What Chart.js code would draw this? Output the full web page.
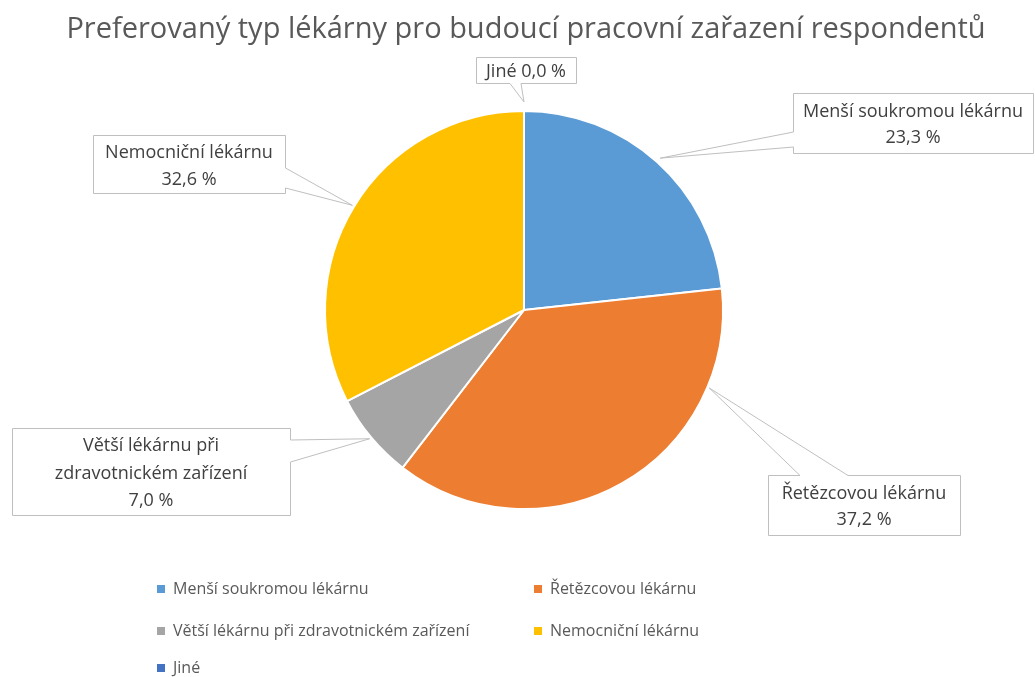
<!DOCTYPE html>
<html lang="cs">
<head>
<meta charset="utf-8">
<title>Preferovaný typ lékárny</title>
<script src="https://cdn.jsdelivr.net/npm/chart.js@4.4.1/dist/chart.umd.min.js"></script>
<style>
  html, body { margin: 0; padding: 0; background: #fff; }
  #chart { display: block; }
</style>
</head>
<body>
<canvas id="chart" width="1035" height="677"></canvas>
<script>
const titleText = 'Preferovaný typ lékárny pro budoucí pracovní zařazení respondentů';
const categories = ['Menší soukromou lékárnu', 'Řetězcovou lékárnu', 'Větší lékárnu při zdravotnickém zařízení', 'Nemocniční lékárnu', 'Jiné'];
const shares = [23.3, 37.2, 7.0, 32.6, 0.0];
const colors = ['#5b9bd5', '#ed7d31', '#a5a5a5', '#ffc000', '#4472c4'];
// callout text, wrapped the same way as the original
const calloutLines = [
    ['Menší soukromou lékárnu'],
    ['Řetězcovou lékárnu'],
    ['Větší lékárnu při', 'zdravotnickém zařízení'],
    ['Nemocniční lékárnu'],
    ['Jiné']
];

const FONT = '"Open Sans", "Noto Sans", sans-serif';

function pct(v) {
    return v.toFixed(1).replace('.', ',') + ' %';
}

// Title + legend drawn by hand (Excel style layout)
const decorations = {
    id: 'decorations',
    afterDraw(chart, args, opts) {
        const ctx = chart.ctx;
        ctx.save();
        ctx.fillStyle = '#595959';
        ctx.textBaseline = 'middle';
        ctx.textAlign = 'center';
        ctx.font = '29px ' + FONT;
        ctx.fillText(titleText, opts.titleX, opts.titleY);

        // legend
        ctx.textAlign = 'left';
        ctx.font = '16px ' + FONT;
        const labels = chart.data.labels;
        const bg = chart.data.datasets[0].backgroundColor;
        labels.forEach((lab, i) => {
            const pos = opts.legend[i];
            ctx.fillStyle = bg[i];
            ctx.fillRect(pos[0], pos[1] - 4, 8, 8);
            ctx.fillStyle = '#595959';
            ctx.fillText(lab, pos[0] + 16, pos[1]);
        });
        ctx.restore();
    }
};

// Data callouts with a wedge pointing at the slice
const callouts = {
    id: 'callouts',
    afterDatasetsDraw(chart, args, opts) {
        const ctx = chart.ctx;
        const meta = chart.getDatasetMeta(0);
        const values = chart.data.datasets[0].data;
        ctx.save();
        meta.data.forEach((arc, i) => {
            const b = opts.boxes[i];
            const a = arc.startAngle + (arc.endAngle - arc.startAngle) * b.at;
            const r = arc.outerRadius + b.gap;
            const tip = [arc.x + Math.cos(a) * r, arc.y + Math.sin(a) * r];
            const x = b.x + 0.5, y = b.y + 0.5, w = b.w, h = b.h;
            const tl = [x, y], tr = [x + w, y], br = [x + w, y + h], bl = [x, y + h];
            let pts;
            if (b.side === 'top') {
                pts = [tl, [b.base[0], y], tip, [b.base[1], y], tr, br, bl];
            } else if (b.side === 'right') {
                pts = [tl, tr, [x + w, b.base[0]], tip, [x + w, b.base[1]], br, bl];
            } else if (b.side === 'bottom') {
                pts = [tl, tr, br, [b.base[1], y + h], tip, [b.base[0], y + h], bl];
            } else {
                pts = [tl, tr, br, bl, [x, b.base[1]], tip, [x, b.base[0]]];
            }
            ctx.beginPath();
            pts.forEach((p, k) => k ? ctx.lineTo(p[0], p[1]) : ctx.moveTo(p[0], p[1]));
            ctx.closePath();
            ctx.fillStyle = '#ffffff';
            ctx.fill();
            ctx.strokeStyle = '#bfbfbf';
            ctx.lineWidth = 1;
            ctx.stroke();

            let lines = calloutLines[i].slice();
            if (b.inline) {
                lines[lines.length - 1] += ' ' + pct(values[i]);
            } else {
                lines.push(pct(values[i]));
            }
            ctx.font = '18px ' + FONT;
            ctx.fillStyle = '#404040';
            ctx.textAlign = 'center';
            ctx.textBaseline = 'middle';
            const lh = b.lh || 26;
            const cy = b.y + b.h / 2 + 2 - (lines.length - 1) * lh / 2;
            lines.forEach((t, k) => ctx.fillText(t, b.x + b.w / 2, cy + k * lh));
        });
        ctx.restore();
    }
};

new Chart(document.getElementById('chart'), {
    type: 'pie',
    data: {
        labels: categories,
        datasets: [{
            data: shares,
            backgroundColor: colors,
            borderColor: '#ffffff',
            borderWidth: 2
        }]
    },
    options: {
        responsive: false,
        animation: false,
        events: [],
        layout: {
            padding: { left: 324, right: 311, top: 110, bottom: 167 }
        },
        plugins: {
            legend: { display: false },
            title: { display: false },
            tooltip: { enabled: false },
            decorations: {
                titleX: 526,
                titleY: 30,
                legend: [[157, 589], [534, 589], [157, 631], [534, 631], [157, 668]]
            },
            callouts: {
                boxes: [
                    { x: 793, y: 93, w: 240, h: 60, side: 'left', base: [132, 147], at: 0.5, gap: 5 },
                    { x: 768, y: 475, w: 192, h: 60, side: 'top', base: [800, 848], at: 0.217, gap: 2 },
                    { x: 12, y: 428, w: 278, h: 87, side: 'right', base: [440, 462], at: 0.5, gap: 2, lh: 27.5 },
                    { x: 93, y: 135, w: 192, h: 58, side: 'right', base: [168, 188], at: 0.5, gap: 2, lh: 27 },
                    { x: 476, y: 57, w: 100, h: 26, side: 'bottom', base: [510, 521], at: 0.5, gap: 9, inline: true }
                ]
            }
        }
    },
    plugins: [callouts, decorations]
});
</script>
</body>
</html>
